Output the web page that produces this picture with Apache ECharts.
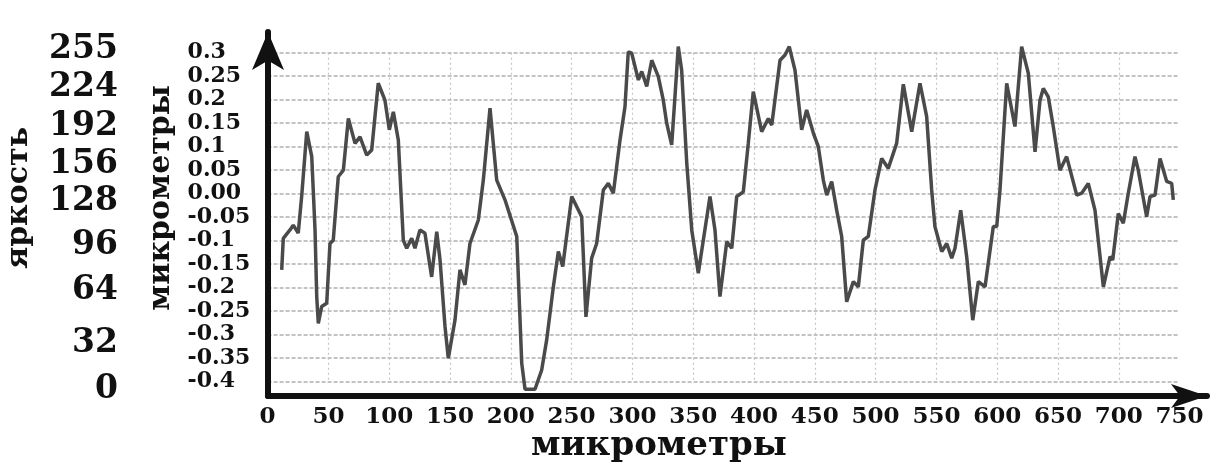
<!DOCTYPE html>
<html>
<head>
<meta charset="utf-8">
<script src="https://cdn.jsdelivr.net/npm/echarts@6/dist/echarts.min.js"></script>
<style>
html,body{margin:0;padding:0;background:#fff;}
#chart{width:1232px;height:462px;}
</style>
</head>
<body>
<div id="chart"></div>
<script>
// ---- data ----
var xPos = [11.6,12.9,18.4,21.1,25.2,28.0,32.2,36.3,39.0,40.4,41.7,44.5,48.6,51.3,54.0,58.1,62.3,66.4,71.9,76.0,
  81.5,85.6,91.0,96.5,100.1,103.4,107.5,111.6,114.4,118.5,121.2,125.3,129.4,134.9,139.1,141.8,145.9,148.6,154.1,158.2,
  162.3,166.4,173.3,177.4,182.9,188.4,195.2,204.9,209.0,211.7,219.9,225.4,229.5,235.0,239.1,242.7,250.1,258.3,261.8,266.5,
  270.6,276.1,280.2,284.3,289.8,293.9,296.6,299.4,304.9,307.7,311.8,315.9,321.3,325.4,328.2,332.3,335.0,337.7,340.5,344.7,
  348.8,354.2,358.3,363.8,367.9,372.0,377.6,381.7,385.8,391.2,395.3,399.4,406.3,411.8,414.6,421.4,425.5,429.0,433.7,439.2,
  443.3,448.8,452.9,457.0,459.8,463.9,468.0,472.1,476.2,481.7,485.8,489.9,494.0,499.5,505.0,510.4,517.3,522.8,529.7,536.5,
  542.0,546.1,548.8,554.4,558.5,562.6,565.3,570.0,574.9,579.9,584.5,590.0,596.8,599.6,602.3,607.8,614.6,620.1,625.6,631.1,
  635.2,637.9,642.0,646.1,651.6,657.1,665.4,669.5,674.9,680.4,687.3,692.8,695.0,699.6,703.7,707.8,713.3,716.0,722.9,725.7,
  729.8,733.9,739.4,743.5,744.8];
var profile = [-0.162,-0.095,-0.077,-0.067,-0.084,-0.006,0.132,0.079,-0.077,-0.219,-0.276,-0.240,-0.233,-0.106,-0.099,0.036,0.050,0.160,0.107,0.121,
  0.082,0.093,0.235,0.199,0.136,0.174,0.114,-0.099,-0.116,-0.095,-0.116,-0.077,-0.084,-0.177,-0.081,-0.141,-0.283,-0.350,-0.269,-0.162,
  -0.194,-0.106,-0.056,0.029,0.182,0.029,-0.013,-0.091,-0.361,-0.416,-0.416,-0.375,-0.311,-0.198,-0.123,-0.155,-0.006,-0.049,-0.262,-0.137,
  -0.106,0.008,0.022,0.001,0.114,0.185,0.302,0.299,0.242,0.260,0.228,0.284,0.249,0.199,0.150,0.104,0.206,0.313,0.263,0.065,
  -0.077,-0.169,-0.099,-0.006,-0.077,-0.219,-0.102,-0.116,-0.006,0.004,0.107,0.217,0.132,0.160,0.146,0.284,0.295,0.313,0.263,0.136,
  0.178,0.129,0.100,0.029,-0.003,0.026,-0.035,-0.091,-0.230,-0.187,-0.198,-0.099,-0.091,0.008,0.075,0.054,0.107,0.233,0.132,0.235,
  0.164,0.008,-0.070,-0.123,-0.106,-0.137,-0.116,-0.035,-0.134,-0.269,-0.187,-0.198,-0.070,-0.070,0.008,0.235,0.143,0.313,0.256,0.089,
  0.199,0.224,0.206,0.143,0.050,0.079,-0.003,0.001,0.022,-0.035,-0.198,-0.134,-0.141,-0.042,-0.063,0.001,0.079,0.050,-0.049,-0.006,
  -0.003,0.075,0.026,0.022,-0.013];
var brightnessLabels = ['255','224','192','156','128','96','64','32','0'];
var xTitle = 'микрометры';
var yTitle = 'микрометры';
var brightnessTitle = 'яркость';

// ---- layout (positions only) ----
var brightnessY = [49.5, 87.5, 126.5, 164, 201.5, 245.5, 290, 343, 389];
var FONT = 'DejaVu Serif';

var seriesData = xPos.map(function (x, i) { return [x, profile[i]]; });

var graphics = brightnessLabels.map(function (t, i) {
  return {
    type: 'text', x: 118, y: brightnessY[i],
    style: { text: t, fontFamily: FONT, fontWeight: 'bold', fontSize: 33, fill: '#111',
             align: 'right', verticalAlign: 'middle' }
  };
});
graphics.push({
  type: 'text', x: 19, y: 198, rotation: Math.PI / 2,
  style: { text: brightnessTitle, fontFamily: FONT, fontWeight: 'bold', fontSize: 30, fill: '#111',
           align: 'center', verticalAlign: 'middle' }
});
graphics.push({
  type: 'text', x: 161, y: 198, rotation: Math.PI / 2,
  style: { text: yTitle, fontFamily: FONT, fontWeight: 'bold', fontSize: 30, fill: '#111',
           align: 'center', verticalAlign: 'middle' }
});
graphics.push({
  type: 'text', x: 659, y: 446,
  style: { text: xTitle, fontFamily: FONT, fontWeight: 'bold', fontSize: 34, fill: '#111',
           align: 'center', verticalAlign: 'middle' }
});

var chart = echarts.init(document.getElementById('chart'), null, { renderer: 'canvas' });
chart.setOption({
  animation: false,
  backgroundColor: '#fff',
  grid: [
    { left: 267.6, top: 52.7, width: 912, height: 329 },
    { left: 268, top: 32, right: 25, bottom: 66 }
  ],
  xAxis: [
    {
      gridIndex: 0, type: 'value', min: 0, max: 750, interval: 50,
      axisLine: { show: false }, axisTick: { show: false },
      axisLabel: { margin: 24, fontFamily: FONT, fontWeight: 'bold', fontSize: 23, color: '#111' },
      splitLine: { show: true, showMinLine: false, showMaxLine: false,
                   lineStyle: { color: '#c4c4c4', width: 1.2, type: [2, 3] } }
    },
    {
      gridIndex: 1, type: 'value', min: 0, max: 1,
      axisLine: { show: true, symbol: ['none', 'arrow'], symbolSize: [18, 36],
                  lineStyle: { color: '#111', width: 6 } },
      axisTick: { show: false }, axisLabel: { show: false }, splitLine: { show: false }
    }
  ],
  yAxis: [
    {
      gridIndex: 0, type: 'value', min: -0.4, max: 0.3, interval: 0.05,
      axisLine: { show: false }, axisTick: { show: false },
      axisLabel: {
        margin: 80, align: 'left', fontFamily: FONT, fontWeight: 'bold', fontSize: 22, color: '#111',
        formatter: function (v) {
          if (Math.abs(v) < 1e-9) return '0.00';
          return String(parseFloat(v.toFixed(2)));
        }
      },
      splitLine: { show: true, lineStyle: { color: '#b0b0b0', width: 1.5, type: [4, 2] } }
    },
    {
      gridIndex: 1, type: 'value', min: 0, max: 1,
      axisLine: { show: true, symbol: ['none', 'arrow'], symbolSize: [24, 38],
                  lineStyle: { color: '#111', width: 6 } },
      axisTick: { show: false }, axisLabel: { show: false }, splitLine: { show: false }
    }
  ],
  graphic: graphics,
  series: [{
    type: 'line', xAxisIndex: 0, yAxisIndex: 0, data: seriesData,
    showSymbol: false, clip: false, smooth: false,
    lineStyle: { color: '#4a4a4a', width: 3.5 }
  }]
});
</script>
</body>
</html>
